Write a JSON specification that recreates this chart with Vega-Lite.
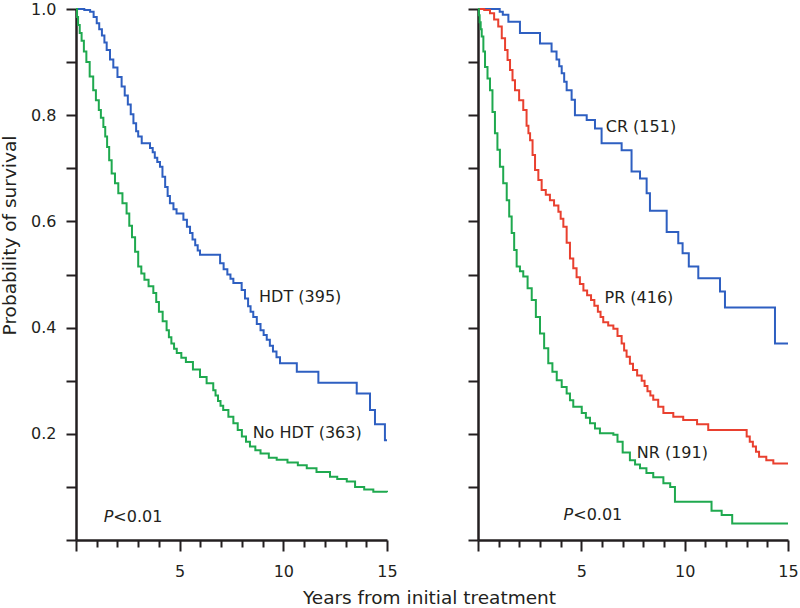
{
  "$schema": "https://vega.github.io/schema/vega-lite/v6.json",
  "padding": {"left": 0, "top": 1, "right": 4, "bottom": 0},
  "bounds": "flush",
  "spacing": 91,
  "config": {
    "view": {"stroke": null},
    "font": "DejaVu Sans",
    "axis": {
      "grid": false,
      "domainColor": "#231f20",
      "domainWidth": 2.5,
      "tickColor": "#231f20",
      "tickWidth": 2,
      "tickSize": 10,
      "labelFont": "DejaVu Sans",
      "labelFontSize": 16,
      "labelColor": "#231f20",
      "labelOverlap": false,
      "labelFlush": false,
      "titleFont": "DejaVu Sans",
      "titleFontSize": 18.5,
      "titleFontWeight": "normal",
      "titleColor": "#231f20"
    }
  },
  "datasets": {
    "curves": [
      {"panel": "A", "group": "HDT", "t": 0, "s": 1.0},
      {"panel": "A", "group": "HDT", "t": 0.4, "s": 0.998},
      {"panel": "A", "group": "HDT", "t": 0.68, "s": 0.995},
      {"panel": "A", "group": "HDT", "t": 0.85, "s": 0.985},
      {"panel": "A", "group": "HDT", "t": 1.0, "s": 0.973},
      {"panel": "A", "group": "HDT", "t": 1.12, "s": 0.962},
      {"panel": "A", "group": "HDT", "t": 1.25, "s": 0.95},
      {"panel": "A", "group": "HDT", "t": 1.37, "s": 0.937},
      {"panel": "A", "group": "HDT", "t": 1.48, "s": 0.923},
      {"panel": "A", "group": "HDT", "t": 1.64, "s": 0.905},
      {"panel": "A", "group": "HDT", "t": 1.8, "s": 0.89},
      {"panel": "A", "group": "HDT", "t": 2.0, "s": 0.872},
      {"panel": "A", "group": "HDT", "t": 2.2, "s": 0.854},
      {"panel": "A", "group": "HDT", "t": 2.35, "s": 0.837},
      {"panel": "A", "group": "HDT", "t": 2.5, "s": 0.82},
      {"panel": "A", "group": "HDT", "t": 2.64, "s": 0.802},
      {"panel": "A", "group": "HDT", "t": 2.77, "s": 0.785},
      {"panel": "A", "group": "HDT", "t": 2.9, "s": 0.77},
      {"panel": "A", "group": "HDT", "t": 3.0, "s": 0.76},
      {"panel": "A", "group": "HDT", "t": 3.17, "s": 0.747},
      {"panel": "A", "group": "HDT", "t": 3.57, "s": 0.738},
      {"panel": "A", "group": "HDT", "t": 3.7, "s": 0.73},
      {"panel": "A", "group": "HDT", "t": 3.8, "s": 0.72},
      {"panel": "A", "group": "HDT", "t": 3.92, "s": 0.712},
      {"panel": "A", "group": "HDT", "t": 4.05, "s": 0.703},
      {"panel": "A", "group": "HDT", "t": 4.17, "s": 0.684},
      {"panel": "A", "group": "HDT", "t": 4.3, "s": 0.665},
      {"panel": "A", "group": "HDT", "t": 4.42, "s": 0.648},
      {"panel": "A", "group": "HDT", "t": 4.53, "s": 0.634},
      {"panel": "A", "group": "HDT", "t": 4.7, "s": 0.623},
      {"panel": "A", "group": "HDT", "t": 4.85, "s": 0.615},
      {"panel": "A", "group": "HDT", "t": 5.18, "s": 0.603},
      {"panel": "A", "group": "HDT", "t": 5.35, "s": 0.59},
      {"panel": "A", "group": "HDT", "t": 5.5, "s": 0.578},
      {"panel": "A", "group": "HDT", "t": 5.62, "s": 0.566},
      {"panel": "A", "group": "HDT", "t": 5.75, "s": 0.555},
      {"panel": "A", "group": "HDT", "t": 5.87, "s": 0.545},
      {"panel": "A", "group": "HDT", "t": 5.98, "s": 0.537},
      {"panel": "A", "group": "HDT", "t": 6.95, "s": 0.521},
      {"panel": "A", "group": "HDT", "t": 7.12, "s": 0.51},
      {"panel": "A", "group": "HDT", "t": 7.3, "s": 0.5},
      {"panel": "A", "group": "HDT", "t": 7.45, "s": 0.492},
      {"panel": "A", "group": "HDT", "t": 7.59, "s": 0.484},
      {"panel": "A", "group": "HDT", "t": 7.99, "s": 0.471},
      {"panel": "A", "group": "HDT", "t": 8.15, "s": 0.455},
      {"panel": "A", "group": "HDT", "t": 8.3, "s": 0.44},
      {"panel": "A", "group": "HDT", "t": 8.42, "s": 0.43},
      {"panel": "A", "group": "HDT", "t": 8.55, "s": 0.42},
      {"panel": "A", "group": "HDT", "t": 8.72, "s": 0.407},
      {"panel": "A", "group": "HDT", "t": 8.9, "s": 0.395},
      {"panel": "A", "group": "HDT", "t": 9.05, "s": 0.386},
      {"panel": "A", "group": "HDT", "t": 9.2, "s": 0.377},
      {"panel": "A", "group": "HDT", "t": 9.35, "s": 0.366},
      {"panel": "A", "group": "HDT", "t": 9.5, "s": 0.355},
      {"panel": "A", "group": "HDT", "t": 9.67, "s": 0.344},
      {"panel": "A", "group": "HDT", "t": 9.84, "s": 0.333},
      {"panel": "A", "group": "HDT", "t": 10.65, "s": 0.317},
      {"panel": "A", "group": "HDT", "t": 11.69, "s": 0.296},
      {"panel": "A", "group": "HDT", "t": 13.54, "s": 0.276},
      {"panel": "A", "group": "HDT", "t": 14.18, "s": 0.245},
      {"panel": "A", "group": "HDT", "t": 14.42, "s": 0.218},
      {"panel": "A", "group": "HDT", "t": 14.9, "s": 0.188},
      {"panel": "A", "group": "HDT", "t": 15, "s": 0.188},

      {"panel": "A", "group": "No HDT", "t": 0, "s": 1.0},
      {"panel": "A", "group": "No HDT", "t": 0.05, "s": 0.985},
      {"panel": "A", "group": "No HDT", "t": 0.1, "s": 0.97},
      {"panel": "A", "group": "No HDT", "t": 0.18, "s": 0.955},
      {"panel": "A", "group": "No HDT", "t": 0.27, "s": 0.94},
      {"panel": "A", "group": "No HDT", "t": 0.38, "s": 0.92},
      {"panel": "A", "group": "No HDT", "t": 0.5, "s": 0.9},
      {"panel": "A", "group": "No HDT", "t": 0.66, "s": 0.873},
      {"panel": "A", "group": "No HDT", "t": 0.83, "s": 0.847},
      {"panel": "A", "group": "No HDT", "t": 0.96, "s": 0.828},
      {"panel": "A", "group": "No HDT", "t": 1.1, "s": 0.81},
      {"panel": "A", "group": "No HDT", "t": 1.2, "s": 0.795},
      {"panel": "A", "group": "No HDT", "t": 1.32, "s": 0.778},
      {"panel": "A", "group": "No HDT", "t": 1.41, "s": 0.76},
      {"panel": "A", "group": "No HDT", "t": 1.5, "s": 0.74},
      {"panel": "A", "group": "No HDT", "t": 1.6, "s": 0.715},
      {"panel": "A", "group": "No HDT", "t": 1.72, "s": 0.69},
      {"panel": "A", "group": "No HDT", "t": 1.88, "s": 0.672},
      {"panel": "A", "group": "No HDT", "t": 2.04, "s": 0.653},
      {"panel": "A", "group": "No HDT", "t": 2.24, "s": 0.634},
      {"panel": "A", "group": "No HDT", "t": 2.44, "s": 0.615},
      {"panel": "A", "group": "No HDT", "t": 2.57, "s": 0.592},
      {"panel": "A", "group": "No HDT", "t": 2.7, "s": 0.57},
      {"panel": "A", "group": "No HDT", "t": 2.85, "s": 0.543},
      {"panel": "A", "group": "No HDT", "t": 3.0, "s": 0.515},
      {"panel": "A", "group": "No HDT", "t": 3.15, "s": 0.502},
      {"panel": "A", "group": "No HDT", "t": 3.3, "s": 0.49},
      {"panel": "A", "group": "No HDT", "t": 3.5, "s": 0.478},
      {"panel": "A", "group": "No HDT", "t": 3.73, "s": 0.465},
      {"panel": "A", "group": "No HDT", "t": 3.87, "s": 0.448},
      {"panel": "A", "group": "No HDT", "t": 4.0, "s": 0.43},
      {"panel": "A", "group": "No HDT", "t": 4.18, "s": 0.412},
      {"panel": "A", "group": "No HDT", "t": 4.37, "s": 0.395},
      {"panel": "A", "group": "No HDT", "t": 4.48, "s": 0.382},
      {"panel": "A", "group": "No HDT", "t": 4.6, "s": 0.37},
      {"panel": "A", "group": "No HDT", "t": 4.73, "s": 0.36},
      {"panel": "A", "group": "No HDT", "t": 4.86, "s": 0.352},
      {"panel": "A", "group": "No HDT", "t": 5.08, "s": 0.343},
      {"panel": "A", "group": "No HDT", "t": 5.3, "s": 0.335},
      {"panel": "A", "group": "No HDT", "t": 5.64, "s": 0.321},
      {"panel": "A", "group": "No HDT", "t": 5.98, "s": 0.307},
      {"panel": "A", "group": "No HDT", "t": 6.3, "s": 0.295},
      {"panel": "A", "group": "No HDT", "t": 6.62, "s": 0.282},
      {"panel": "A", "group": "No HDT", "t": 6.73, "s": 0.272},
      {"panel": "A", "group": "No HDT", "t": 6.85, "s": 0.262},
      {"panel": "A", "group": "No HDT", "t": 6.97, "s": 0.253},
      {"panel": "A", "group": "No HDT", "t": 7.1, "s": 0.245},
      {"panel": "A", "group": "No HDT", "t": 7.35, "s": 0.232},
      {"panel": "A", "group": "No HDT", "t": 7.59, "s": 0.22},
      {"panel": "A", "group": "No HDT", "t": 7.8, "s": 0.207},
      {"panel": "A", "group": "No HDT", "t": 8.0, "s": 0.195},
      {"panel": "A", "group": "No HDT", "t": 8.2, "s": 0.185},
      {"panel": "A", "group": "No HDT", "t": 8.39, "s": 0.176},
      {"panel": "A", "group": "No HDT", "t": 8.65, "s": 0.169},
      {"panel": "A", "group": "No HDT", "t": 8.9, "s": 0.163},
      {"panel": "A", "group": "No HDT", "t": 9.3, "s": 0.155},
      {"panel": "A", "group": "No HDT", "t": 9.68, "s": 0.151},
      {"panel": "A", "group": "No HDT", "t": 10.2, "s": 0.146},
      {"panel": "A", "group": "No HDT", "t": 10.7, "s": 0.141},
      {"panel": "A", "group": "No HDT", "t": 11.13, "s": 0.135},
      {"panel": "A", "group": "No HDT", "t": 11.6, "s": 0.128},
      {"panel": "A", "group": "No HDT", "t": 12.25, "s": 0.119},
      {"panel": "A", "group": "No HDT", "t": 12.6, "s": 0.115},
      {"panel": "A", "group": "No HDT", "t": 13.06, "s": 0.11},
      {"panel": "A", "group": "No HDT", "t": 13.46, "s": 0.1},
      {"panel": "A", "group": "No HDT", "t": 13.9, "s": 0.095},
      {"panel": "A", "group": "No HDT", "t": 14.34, "s": 0.091},
      {"panel": "A", "group": "No HDT", "t": 15, "s": 0.09},

      {"panel": "B", "group": "CR", "t": 0, "s": 1.0},
      {"panel": "B", "group": "CR", "t": 1.05, "s": 0.995},
      {"panel": "B", "group": "CR", "t": 1.2, "s": 0.989},
      {"panel": "B", "group": "CR", "t": 1.47, "s": 0.976},
      {"panel": "B", "group": "CR", "t": 2.03, "s": 0.955},
      {"panel": "B", "group": "CR", "t": 3.0, "s": 0.935},
      {"panel": "B", "group": "CR", "t": 3.56, "s": 0.92},
      {"panel": "B", "group": "CR", "t": 3.8, "s": 0.905},
      {"panel": "B", "group": "CR", "t": 3.93, "s": 0.892},
      {"panel": "B", "group": "CR", "t": 4.05, "s": 0.879},
      {"panel": "B", "group": "CR", "t": 4.17, "s": 0.863},
      {"panel": "B", "group": "CR", "t": 4.29, "s": 0.847},
      {"panel": "B", "group": "CR", "t": 4.53, "s": 0.829},
      {"panel": "B", "group": "CR", "t": 4.69, "s": 0.8},
      {"panel": "B", "group": "CR", "t": 5.26, "s": 0.791},
      {"panel": "B", "group": "CR", "t": 5.66, "s": 0.775},
      {"panel": "B", "group": "CR", "t": 5.98, "s": 0.747},
      {"panel": "B", "group": "CR", "t": 6.95, "s": 0.734},
      {"panel": "B", "group": "CR", "t": 7.43, "s": 0.694},
      {"panel": "B", "group": "CR", "t": 7.84, "s": 0.681},
      {"panel": "B", "group": "CR", "t": 8.16, "s": 0.653},
      {"panel": "B", "group": "CR", "t": 8.32, "s": 0.62},
      {"panel": "B", "group": "CR", "t": 9.13, "s": 0.58},
      {"panel": "B", "group": "CR", "t": 9.69, "s": 0.559},
      {"panel": "B", "group": "CR", "t": 9.9, "s": 0.54},
      {"panel": "B", "group": "CR", "t": 10.2, "s": 0.515},
      {"panel": "B", "group": "CR", "t": 10.66, "s": 0.493},
      {"panel": "B", "group": "CR", "t": 11.71, "s": 0.468},
      {"panel": "B", "group": "CR", "t": 11.95, "s": 0.438},
      {"panel": "B", "group": "CR", "t": 14.37, "s": 0.37},
      {"panel": "B", "group": "CR", "t": 15, "s": 0.37},

      {"panel": "B", "group": "PR", "t": 0, "s": 1.0},
      {"panel": "B", "group": "PR", "t": 0.3, "s": 0.998},
      {"panel": "B", "group": "PR", "t": 0.58, "s": 0.992},
      {"panel": "B", "group": "PR", "t": 0.78, "s": 0.98},
      {"panel": "B", "group": "PR", "t": 0.98, "s": 0.967},
      {"panel": "B", "group": "PR", "t": 1.15, "s": 0.945},
      {"panel": "B", "group": "PR", "t": 1.31, "s": 0.923},
      {"panel": "B", "group": "PR", "t": 1.43, "s": 0.904},
      {"panel": "B", "group": "PR", "t": 1.55, "s": 0.885},
      {"panel": "B", "group": "PR", "t": 1.67, "s": 0.866},
      {"panel": "B", "group": "PR", "t": 1.79, "s": 0.847},
      {"panel": "B", "group": "PR", "t": 1.99, "s": 0.828},
      {"panel": "B", "group": "PR", "t": 2.19, "s": 0.81},
      {"panel": "B", "group": "PR", "t": 2.35, "s": 0.78},
      {"panel": "B", "group": "PR", "t": 2.44, "s": 0.766},
      {"panel": "B", "group": "PR", "t": 2.52, "s": 0.753},
      {"panel": "B", "group": "PR", "t": 2.64, "s": 0.725},
      {"panel": "B", "group": "PR", "t": 2.76, "s": 0.697},
      {"panel": "B", "group": "PR", "t": 2.92, "s": 0.678},
      {"panel": "B", "group": "PR", "t": 3.08, "s": 0.659},
      {"panel": "B", "group": "PR", "t": 3.28, "s": 0.65},
      {"panel": "B", "group": "PR", "t": 3.48, "s": 0.64},
      {"panel": "B", "group": "PR", "t": 3.68, "s": 0.63},
      {"panel": "B", "group": "PR", "t": 3.89, "s": 0.618},
      {"panel": "B", "group": "PR", "t": 4.0, "s": 0.605},
      {"panel": "B", "group": "PR", "t": 4.13, "s": 0.59},
      {"panel": "B", "group": "PR", "t": 4.29, "s": 0.56},
      {"panel": "B", "group": "PR", "t": 4.45, "s": 0.53},
      {"panel": "B", "group": "PR", "t": 4.61, "s": 0.512},
      {"panel": "B", "group": "PR", "t": 4.77, "s": 0.495},
      {"panel": "B", "group": "PR", "t": 4.93, "s": 0.482},
      {"panel": "B", "group": "PR", "t": 5.1, "s": 0.47},
      {"panel": "B", "group": "PR", "t": 5.28, "s": 0.461},
      {"panel": "B", "group": "PR", "t": 5.47, "s": 0.452},
      {"panel": "B", "group": "PR", "t": 5.63, "s": 0.441},
      {"panel": "B", "group": "PR", "t": 5.8, "s": 0.43},
      {"panel": "B", "group": "PR", "t": 5.93, "s": 0.42},
      {"panel": "B", "group": "PR", "t": 6.06, "s": 0.41},
      {"panel": "B", "group": "PR", "t": 6.3, "s": 0.404},
      {"panel": "B", "group": "PR", "t": 6.55, "s": 0.398},
      {"panel": "B", "group": "PR", "t": 6.75, "s": 0.384},
      {"panel": "B", "group": "PR", "t": 6.95, "s": 0.37},
      {"panel": "B", "group": "PR", "t": 7.07, "s": 0.357},
      {"panel": "B", "group": "PR", "t": 7.19, "s": 0.345},
      {"panel": "B", "group": "PR", "t": 7.35, "s": 0.332},
      {"panel": "B", "group": "PR", "t": 7.5, "s": 0.32},
      {"panel": "B", "group": "PR", "t": 7.7, "s": 0.31},
      {"panel": "B", "group": "PR", "t": 7.92, "s": 0.3},
      {"panel": "B", "group": "PR", "t": 8.06, "s": 0.29},
      {"panel": "B", "group": "PR", "t": 8.2, "s": 0.28},
      {"panel": "B", "group": "PR", "t": 8.34, "s": 0.272},
      {"panel": "B", "group": "PR", "t": 8.48, "s": 0.264},
      {"panel": "B", "group": "PR", "t": 8.72, "s": 0.251},
      {"panel": "B", "group": "PR", "t": 8.97, "s": 0.239},
      {"panel": "B", "group": "PR", "t": 9.45, "s": 0.232},
      {"panel": "B", "group": "PR", "t": 9.93, "s": 0.226},
      {"panel": "B", "group": "PR", "t": 10.6, "s": 0.218},
      {"panel": "B", "group": "PR", "t": 11.14, "s": 0.207},
      {"panel": "B", "group": "PR", "t": 13.0, "s": 0.195},
      {"panel": "B", "group": "PR", "t": 13.15, "s": 0.185},
      {"panel": "B", "group": "PR", "t": 13.3, "s": 0.176},
      {"panel": "B", "group": "PR", "t": 13.45, "s": 0.166},
      {"panel": "B", "group": "PR", "t": 13.6, "s": 0.157},
      {"panel": "B", "group": "PR", "t": 13.95, "s": 0.15},
      {"panel": "B", "group": "PR", "t": 14.29, "s": 0.144},
      {"panel": "B", "group": "PR", "t": 15, "s": 0.144},

      {"panel": "B", "group": "NR", "t": 0, "s": 1.0},
      {"panel": "B", "group": "NR", "t": 0.04, "s": 0.988},
      {"panel": "B", "group": "NR", "t": 0.08, "s": 0.975},
      {"panel": "B", "group": "NR", "t": 0.13, "s": 0.962},
      {"panel": "B", "group": "NR", "t": 0.18, "s": 0.948},
      {"panel": "B", "group": "NR", "t": 0.26, "s": 0.92},
      {"panel": "B", "group": "NR", "t": 0.34, "s": 0.891},
      {"panel": "B", "group": "NR", "t": 0.46, "s": 0.869},
      {"panel": "B", "group": "NR", "t": 0.58, "s": 0.847},
      {"panel": "B", "group": "NR", "t": 0.7, "s": 0.806},
      {"panel": "B", "group": "NR", "t": 0.82, "s": 0.766},
      {"panel": "B", "group": "NR", "t": 0.94, "s": 0.735},
      {"panel": "B", "group": "NR", "t": 1.06, "s": 0.703},
      {"panel": "B", "group": "NR", "t": 1.22, "s": 0.672},
      {"panel": "B", "group": "NR", "t": 1.39, "s": 0.64},
      {"panel": "B", "group": "NR", "t": 1.51, "s": 0.609},
      {"panel": "B", "group": "NR", "t": 1.63, "s": 0.578},
      {"panel": "B", "group": "NR", "t": 1.75, "s": 0.546},
      {"panel": "B", "group": "NR", "t": 1.87, "s": 0.515},
      {"panel": "B", "group": "NR", "t": 2.03, "s": 0.506},
      {"panel": "B", "group": "NR", "t": 2.19, "s": 0.496},
      {"panel": "B", "group": "NR", "t": 2.4, "s": 0.474},
      {"panel": "B", "group": "NR", "t": 2.6, "s": 0.452},
      {"panel": "B", "group": "NR", "t": 2.8, "s": 0.42},
      {"panel": "B", "group": "NR", "t": 3.0, "s": 0.389},
      {"panel": "B", "group": "NR", "t": 3.2, "s": 0.361},
      {"panel": "B", "group": "NR", "t": 3.4, "s": 0.333},
      {"panel": "B", "group": "NR", "t": 3.6, "s": 0.317},
      {"panel": "B", "group": "NR", "t": 3.81, "s": 0.301},
      {"panel": "B", "group": "NR", "t": 4.05, "s": 0.288},
      {"panel": "B", "group": "NR", "t": 4.29, "s": 0.276},
      {"panel": "B", "group": "NR", "t": 4.45, "s": 0.263},
      {"panel": "B", "group": "NR", "t": 4.61, "s": 0.251},
      {"panel": "B", "group": "NR", "t": 5.02, "s": 0.239},
      {"panel": "B", "group": "NR", "t": 5.22, "s": 0.23},
      {"panel": "B", "group": "NR", "t": 5.42, "s": 0.22},
      {"panel": "B", "group": "NR", "t": 5.66, "s": 0.21},
      {"panel": "B", "group": "NR", "t": 5.9, "s": 0.201},
      {"panel": "B", "group": "NR", "t": 6.55, "s": 0.198},
      {"panel": "B", "group": "NR", "t": 6.75, "s": 0.185},
      {"panel": "B", "group": "NR", "t": 7.0, "s": 0.165},
      {"panel": "B", "group": "NR", "t": 7.35, "s": 0.15},
      {"panel": "B", "group": "NR", "t": 7.6, "s": 0.142},
      {"panel": "B", "group": "NR", "t": 7.84, "s": 0.135},
      {"panel": "B", "group": "NR", "t": 8.15, "s": 0.126},
      {"panel": "B", "group": "NR", "t": 8.48, "s": 0.118},
      {"panel": "B", "group": "NR", "t": 8.97, "s": 0.107},
      {"panel": "B", "group": "NR", "t": 9.3, "s": 0.1},
      {"panel": "B", "group": "NR", "t": 9.53, "s": 0.072},
      {"panel": "B", "group": "NR", "t": 11.3, "s": 0.055},
      {"panel": "B", "group": "NR", "t": 11.79, "s": 0.047},
      {"panel": "B", "group": "NR", "t": 12.3, "s": 0.031},
      {"panel": "B", "group": "NR", "t": 15, "s": 0.031}
    ],
    "labels": [
      {"panel": "A", "label": "HDT (395)", "t": 8.83, "s": 0.458},
      {"panel": "A", "label": "No HDT (363)", "t": 8.52, "s": 0.2015},
      {"panel": "A", "label": "<0.01", "t": 1.8, "s": 0.044},
      {"panel": "B", "label": "CR (151)", "t": 6.18, "s": 0.778},
      {"panel": "B", "label": "PR (416)", "t": 6.12, "s": 0.455},
      {"panel": "B", "label": "NR (191)", "t": 7.68, "s": 0.163},
      {"panel": "B", "label": "<0.01", "t": 4.61, "s": 0.047}
    ],
    "pmarks": [
      {"panel": "A", "label": "P", "t": 1.8, "s": 0.044},
      {"panel": "B", "label": "P", "t": 4.61, "s": 0.047}
    ]
  },
  "hconcat": [
    {
      "width": 311,
      "height": 531,
      "encoding": {
        "x": {
          "field": "t", "type": "quantitative",
          "scale": {"domain": [0, 15], "nice": false},
          "axis": {
            "values": [0, 1, 2, 3, 4, 5, 6, 7, 8, 9, 10, 11, 12, 13, 14, 15],
            "labelExpr": "(datum.value == 5 || datum.value == 10 || datum.value == 15) ? datum.label : ''",
            "labelOverlap": false,
            "tickSize": {"condition": {"test": "datum.value % 5 == 0", "value": 11}, "value": 7},
            "labelPadding": 12,
            "title": "Years from initial treatment",
            "titleX": 353,
            "titleY": 63,
            "titleAlign": "center",
            "titleBaseline": "alphabetic"
          }
        },
        "y": {
          "field": "s", "type": "quantitative",
          "scale": {"domain": [0, 1], "nice": false},
          "axis": {
            "values": [0, 0.1, 0.2, 0.3, 0.4, 0.5, 0.6, 0.7, 0.8, 0.9, 1.0],
            "labelExpr": "datum.value > 0.15 && round(datum.value * 10) % 2 == 0 ? format(datum.value, '.1f') : ''",
            "labelOverlap": false,
            "labelPadding": 10,
            "title": "Probability of survival",
            "titleAngle": -90,
            "titleX": -61,
            "titleY": 226,
            "titleAlign": "center",
            "titleBaseline": "alphabetic"
          }
        }
      },
      "layer": [
        {
          "data": {"name": "curves"},
          "transform": [{"filter": "datum.panel == 'A'"}],
          "mark": {"type": "line", "interpolate": "step-after", "strokeWidth": 2},
          "encoding": {
            "color": {
              "field": "group", "type": "nominal",
              "scale": {"domain": ["HDT", "No HDT", "CR", "PR", "NR"], "range": ["#2e5fc1", "#1fa94f", "#2e5fc1", "#e9402f", "#1fa94f"]},
              "legend": null
            }
          }
        },
        {
          "data": {"name": "labels"},
          "transform": [{"filter": "datum.panel == 'A'"}],
          "mark": {"type": "text", "align": "left", "baseline": "middle", "fontSize": 16, "font": "DejaVu Sans", "color": "#231f20"},
          "encoding": {"text": {"field": "label"}}
        },
        {
          "data": {"name": "pmarks"},
          "transform": [{"filter": "datum.panel == 'A'"}],
          "mark": {"type": "text", "align": "right", "baseline": "middle", "fontSize": 16, "fontStyle": "italic", "font": "DejaVu Sans", "color": "#231f20"},
          "encoding": {"text": {"field": "label"}}
        }
      ]
    },
    {
      "width": 310,
      "height": 531,
      "encoding": {
        "x": {
          "field": "t", "type": "quantitative",
          "scale": {"domain": [0, 15], "nice": false},
          "axis": {
            "values": [0, 1, 2, 3, 4, 5, 6, 7, 8, 9, 10, 11, 12, 13, 14, 15],
            "labelExpr": "(datum.value == 5 || datum.value == 10 || datum.value == 15) ? datum.label : ''",
            "labelOverlap": false,
            "tickSize": {"condition": {"test": "datum.value % 5 == 0", "value": 11}, "value": 7},
            "labelPadding": 12,
            "title": null
          }
        },
        "y": {
          "field": "s", "type": "quantitative",
          "scale": {"domain": [0, 1], "nice": false},
          "axis": {
            "values": [0, 0.1, 0.2, 0.3, 0.4, 0.5, 0.6, 0.7, 0.8, 0.9, 1.0],
            "labels": false,
            "title": null,
            "minExtent": 0
          }
        }
      },
      "layer": [
        {
          "data": {"name": "curves"},
          "transform": [{"filter": "datum.panel == 'B'"}],
          "mark": {"type": "line", "interpolate": "step-after", "strokeWidth": 2},
          "encoding": {
            "color": {
              "field": "group", "type": "nominal",
              "scale": {"domain": ["HDT", "No HDT", "CR", "PR", "NR"], "range": ["#2e5fc1", "#1fa94f", "#2e5fc1", "#e9402f", "#1fa94f"]},
              "legend": null
            }
          }
        },
        {
          "data": {"name": "labels"},
          "transform": [{"filter": "datum.panel == 'B'"}],
          "mark": {"type": "text", "align": "left", "baseline": "middle", "fontSize": 16, "font": "DejaVu Sans", "color": "#231f20"},
          "encoding": {"text": {"field": "label"}}
        },
        {
          "data": {"name": "pmarks"},
          "transform": [{"filter": "datum.panel == 'B'"}],
          "mark": {"type": "text", "align": "right", "baseline": "middle", "fontSize": 16, "fontStyle": "italic", "font": "DejaVu Sans", "color": "#231f20"},
          "encoding": {"text": {"field": "label"}}
        }
      ]
    }
  ]
}
